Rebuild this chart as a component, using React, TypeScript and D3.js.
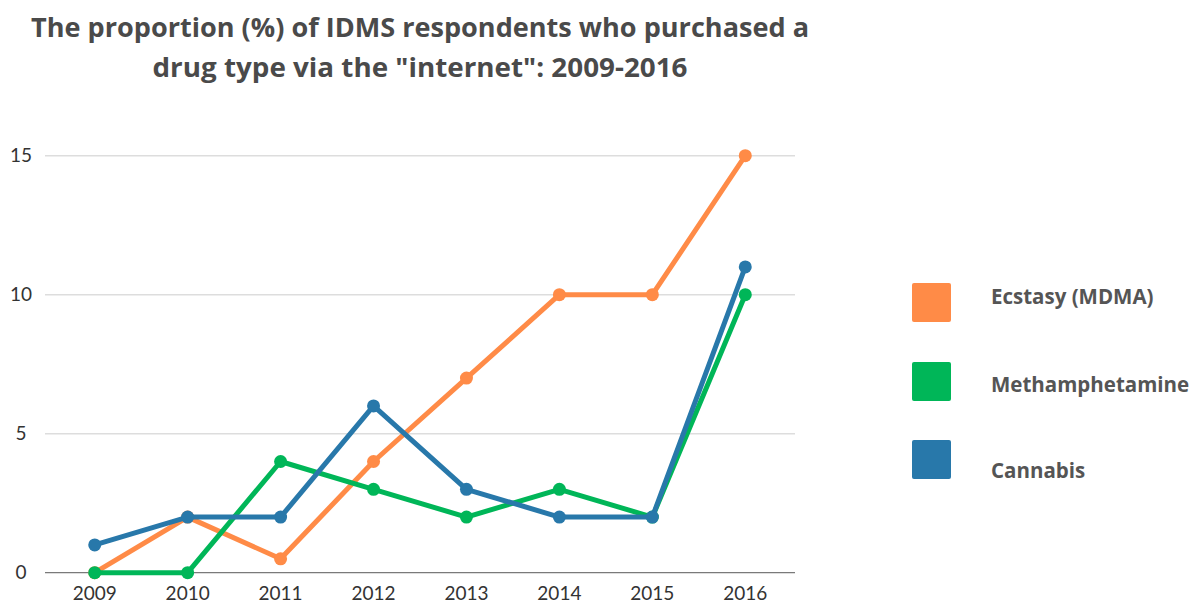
import React from "react";
import * as d3 from "d3";

const years = ["2009", "2010", "2011", "2012", "2013", "2014", "2015", "2016"];
const ecstasy = [0, 2, 0.5, 4, 7, 10, 10, 15];
const meth = [0, 0, 4, 3, 2, 3, 2, 10];
const cannabis = [1, 2, 2, 6, 3, 2, 2, 11];
const yTicks = [0, 5, 10, 15];
const seriesNames = ["Ecstasy (MDMA)", "Methamphetamine", "Cannabis"];
const seriesColors = ["#FF8B47", "#00B658", "#2878AA"];

export default function App() {
  const W = 1195, H = 605;
  const x = d3.scalePoint<string>().domain(years).range([45, 795]).padding(0.535);
  const y = d3.scaleLinear().domain([0, 15]).range([572.7, 155.7]);
  const line = d3.line<number>().x((_, i) => x(years[i]) as number).y((d) => y(d));
  const series = [ecstasy, meth, cannabis];
  const legendY = [283, 362, 440];
  const legendTextY = [304, 392, 478];
  const font = "'Open Sans', 'DejaVu Sans', sans-serif";
  return (
    <svg width={W} height={H} style={{ position: "absolute", left: 0, top: 0, background: "#fff" }}>
      <text x={420} y={37} textAnchor="middle" fontFamily={font} fontWeight={700} fontSize={27} fill="#4a4a4a" textLength={778} lengthAdjust="spacingAndGlyphs">
        The proportion (%) of IDMS respondents who purchased a
      </text>
      <text x={420} y={77} textAnchor="middle" fontFamily={font} fontWeight={700} fontSize={27} fill="#4a4a4a" textLength={535} lengthAdjust="spacingAndGlyphs">
        drug type via the "internet": 2009-2016
      </text>
      {yTicks.map((t) => (
        <g key={t}>
          <line x1={45} x2={795} y1={y(t)} y2={y(t)} stroke={t === 0 ? "#7a7a7a" : "#dddddd"} strokeWidth={t === 0 ? 1.2 : 1.5} />
          <text x={21} y={y(t) + 6.5} textAnchor="middle" fontFamily="Lato, sans-serif" fontSize={19} fill="#333">{t}</text>
        </g>
      ))}
      {years.map((yr) => (
        <text key={yr} x={x(yr)} y={600} textAnchor="middle" fontFamily="Lato, sans-serif" fontSize={19} fill="#333">{yr}</text>
      ))}
      {series.map((s, si) => (
        <g key={si}>
          <path d={line(s) || ""} fill="none" stroke={seriesColors[si]} strokeWidth={5} strokeLinejoin="round" strokeLinecap="round" />
          {s.map((v, i) => (
            <circle key={i} cx={x(years[i])} cy={y(v)} r={6.5} fill={seriesColors[si]} />
          ))}
        </g>
      ))}
      {seriesNames.map((n, i) => (
        <g key={n}>
          <rect x={912} y={legendY[i]} width={39} height={39} rx={2} fill={seriesColors[i]} />
          <text x={991} y={legendTextY[i]} fontFamily={font} fontWeight={700} fontSize={20.5} fill="#555">{n}</text>
        </g>
      ))}
    </svg>
  );
}
